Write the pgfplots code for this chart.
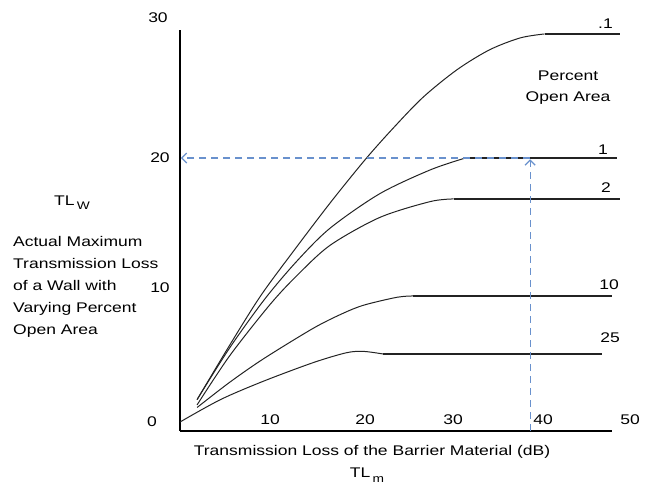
\documentclass[border=0pt]{standalone}
\usepackage{fontspec}
\setmainfont{Liberation Sans}[FakeStretch=1.25]
\usepackage{pgfplots}
\pgfplotsset{compat=1.18}
\usetikzlibrary{arrows.meta}
\definecolor{arrowblue}{RGB}{105,145,205}
\definecolor{curve}{RGB}{35,35,35}
\newcommand\f{\fontsize{14}{17}\selectfont}
\begin{document}
\begin{tikzpicture}
\path (0pt,0pt) rectangle (645pt,492pt);
\begin{axis}[
  at={(180pt,61pt)}, anchor=south west,
  scale only axis, width=432pt, height=401pt,
  xmin=0, xmax=48, ymin=-0.68, ymax=29.7,
  axis x line*=bottom, axis y line*=left,
  axis line style={line width=1.4pt, black},
  xtick=\empty, ytick=\empty,
  clip=false,
]
% .1 percent
\addplot[curve, line width=1pt, smooth, tension=0.5] coordinates {(1.9,1.7) (5.5,5.8) (9,9.6) (13,13.3) (16.8,16.7) (20.6,19.9) (23.6,22.2) (27,24.6) (30.8,26.7) (34.4,28.2) (37.8,29.1) (40.5,29.4)};
\addplot[curve, line width=1.5pt] coordinates {(40.5,29.4) (48.9,29.4)};
% 1 percent
\addplot[curve, line width=1pt, smooth, tension=0.5] coordinates {(1.9,1.7) (5.5,5.6) (9.4,9.3) (13,12.2) (16.7,14.7) (22.2,17.3) (27.8,19.1) (31.7,20)};
\addplot[curve, line width=1.5pt] coordinates {(31.7,20) (48.6,20)};
% 2 percent
\addplot[curve, line width=1pt, smooth, tension=0.5] coordinates {(1.9,1.3) (5.5,5.0) (10,8.9) (13,11.1) (16.7,13.4) (22.2,15.5) (27.8,16.7) (30.4,16.9)};
\addplot[curve, line width=1.5pt] coordinates {(30.4,16.9) (48.9,16.9)};
% 10 percent
\addplot[curve, line width=1pt, smooth, tension=0.5] coordinates {(1.9,1.1) (5.5,3.0) (9.3,4.8) (14.8,7.1) (18,8.2) (20.4,8.85) (24.1,9.45) (25.9,9.55)};
\addplot[curve, line width=1.3pt] coordinates {(25.9,9.55) (48,9.55)};
% 25 percent
\addplot[curve, line width=1pt, smooth, tension=0.5] coordinates {(0,0) (4.5,1.7) (9.3,3.1) (14.8,4.5) (18.5,5.25) (20.4,5.35) (22.6,5.15)};
\addplot[curve, line width=1.3pt] coordinates {(22.6,5.15) (46.9,5.15)};
% dashed reading arrows
\addplot[arrowblue, line width=1.2pt, dash pattern=on 7pt off 5pt, -{Straight Barb[length=5pt,width=10pt]}] coordinates {(38.9,-0.68) (38.9,19.9)};
\addplot[arrowblue, line width=1.2pt, dash pattern=on 7pt off 5pt, -{Straight Barb[length=5pt,width=10pt]}] coordinates {(38.9,20) (0.1,20)};
\end{axis}
% tick labels
\node[font=\f] at (158pt,474pt) {30};
\node[font=\f] at (160pt,334pt) {20};
\node[font=\f] at (160pt,204pt) {10};
\node[font=\f] at (152pt,70pt) {0};
\node[font=\f] at (270pt,72pt) {10};
\node[font=\f] at (365pt,72pt) {20};
\node[font=\f] at (453pt,72pt) {30};
\node[font=\f] at (543pt,72pt) {40};
\node[font=\f] at (630pt,72pt) {50};
% curve labels
\node[font=\f, anchor=east, inner sep=0pt] at (613pt,468pt) {.1};
\node[font=\f, anchor=east, inner sep=0pt] at (608pt,342pt) {1};
\node[font=\f, anchor=east, inner sep=0pt] at (611pt,304pt) {2};
\node[font=\f, anchor=east, inner sep=0pt] at (619pt,207pt) {10};
\node[font=\f, anchor=east, inner sep=0pt] at (620pt,154pt) {25};
\node[font=\f] at (568pt,416pt) {Percent};
\node[font=\f] at (568pt,394pt) {Open Area};
% left label
\node[font=\f] at (72pt,289pt) {TL\,\raisebox{-0.55ex}{\fontsize{11}{13}\selectfont W}};
\node[font=\f, anchor=base west, inner sep=0pt] at (13pt,245pt) {Actual Maximum};
\node[font=\f, anchor=base west, inner sep=0pt] at (13pt,223pt) {Transmission Loss};
\node[font=\f, anchor=base west, inner sep=0pt] at (13pt,201pt) {of a Wall with};
\node[font=\f, anchor=base west, inner sep=0pt] at (13pt,179pt) {Varying Percent};
\node[font=\f, anchor=base west, inner sep=0pt] at (13pt,157pt) {Open Area};
% x label
\node[font=\f] at (372pt,40pt) {Transmission Loss of the Barrier Material (dB)};
\node[font=\f] at (367pt,17pt) {TL\,\raisebox{-0.65ex}{\fontsize{11}{13}\selectfont m}};
\end{tikzpicture}
\end{document}
